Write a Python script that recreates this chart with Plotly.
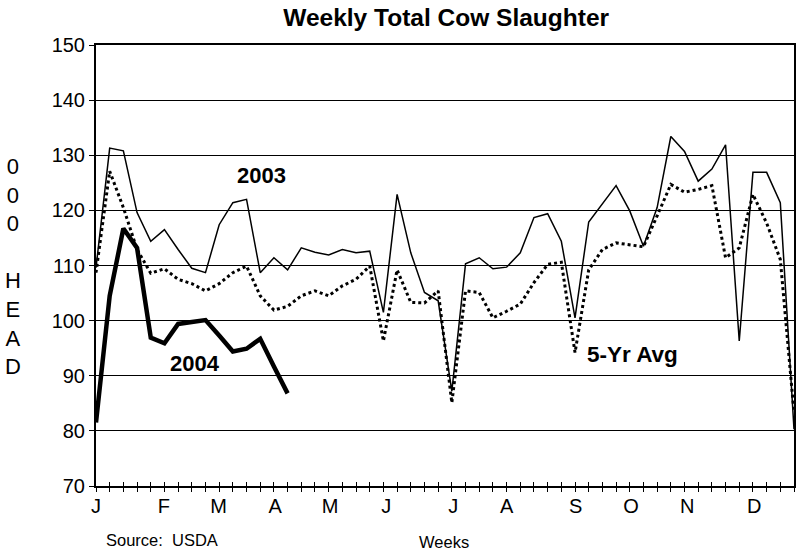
import plotly.graph_objects as go

weeks = list(range(1, 53))

y2003 = [109.6, 131.3, 130.8, 119.6, 114.4, 116.5, 112.9, 109.5, 108.7, 117.4,
         121.4, 122.0, 108.7, 111.4, 109.2, 113.2, 112.4, 111.9, 112.9, 112.3,
         112.6, 101.5, 122.9, 112.3, 105.1, 103.6, 87.2, 110.3, 111.4, 109.4,
         109.7, 112.3, 118.7, 119.4, 114.4, 100.5, 117.9, 121.1, 124.5, 119.9,
         113.5, 120.5, 133.4, 130.7, 125.3, 127.5, 131.9, 96.3, 126.9, 126.9,
         121.4, 80.3]

avg5 = [108.7, 127.1, 120.5, 112.9, 108.6, 109.4, 107.5, 106.7, 105.4, 106.7,
        108.7, 109.9, 104.5, 101.9, 102.6, 104.5, 105.4, 104.5, 106.3, 107.5,
        109.9, 96.3, 109.2, 103.3, 103.2, 105.4, 85.1, 105.4, 105.1, 100.5,
        101.7, 103.0, 106.9, 110.2, 110.6, 94.2, 109.2, 112.9, 114.1, 113.8,
        113.4, 119.0, 124.7, 123.3, 123.8, 124.5, 111.4, 113.2, 122.9, 117.7,
        111.1, 83.3]

y2004 = [81.5, 104.5, 116.7, 113.2, 96.9, 95.9, 99.4, 99.7, 100.1, 97.3,
         94.4, 94.9, 96.7, 91.7, 86.8]

month_labels = ["J", "F", "M", "A", "M", "J", "J", "A", "S", "O", "N", "D"]
month_pos = [1.0, 5.95, 9.95, 14.1, 18.1, 22.2, 27.1, 31.0, 36.05, 40.1, 44.2, 49.1]

FONT = "Liberation Sans Narrow, Arial Narrow, Liberation Sans, Arial, sans-serif"

fig = go.Figure()
fig.add_trace(go.Scatter(x=weeks, y=avg5, mode="lines", name="5-Yr Avg",
                         line=dict(color="black", width=3, dash="3px,3px")))
fig.add_trace(go.Scatter(x=weeks, y=y2003, mode="lines", name="2003",
                         line=dict(color="black", width=1.5)))
fig.add_trace(go.Scatter(x=weeks[:len(y2004)], y=y2004, mode="lines", name="2004",
                         line=dict(color="black", width=4.5)))
# invisible traces to activate overlay axes
fig.add_trace(go.Scatter(x=[1, 52], y=[70, 70], xaxis="x2", mode="lines",
                         line=dict(width=0), hoverinfo="skip", showlegend=False))
fig.add_trace(go.Scatter(x=[1, 52], y=[70, 70], xaxis="x3", mode="lines",
                         line=dict(width=0), hoverinfo="skip", showlegend=False))

fig.update_layout(
    width=801, height=556,
    margin=dict(l=96, r=5, t=45, b=70),
    paper_bgcolor="white", plot_bgcolor="white",
    showlegend=False,
    font=dict(family=FONT, size=20, color="black"),
    title=dict(text="<b>Weekly Total Cow Slaughter</b>", x=0.557, xanchor="center",
               y=1 - 17 / 556, yanchor="middle",
               font=dict(family=FONT, size=24.5, color="black")),
    xaxis=dict(range=[1, 52], tickvals=weeks, showticklabels=False,
               ticks="outside", ticklen=4, tickwidth=1, tickcolor="black",
               showline=True, linewidth=2, linecolor="black", mirror=True,
               showgrid=False, zeroline=False),
    xaxis2=dict(range=[1, 52], overlaying="x", anchor="y", side="bottom",
                tickvals=month_pos, ticktext=month_labels,
                ticks="outside", ticklen=2, tickcolor="rgba(0,0,0,0)",
                tickfont=dict(family=FONT, size=20, color="black"),
                showline=False, showgrid=False, zeroline=False),
    xaxis3=dict(range=[1, 52], overlaying="x", anchor="y", side="bottom",
                tickvals=weeks, showticklabels=False,
                ticks="inside", ticklen=4, tickwidth=1, tickcolor="black",
                showline=False, showgrid=False, zeroline=False),
    yaxis=dict(range=[70, 150], dtick=10, tick0=70,
               ticks="outside", ticklen=5, tickwidth=1, tickcolor="black",
               tickfont=dict(family=FONT, size=20, color="black"),
               showline=True, linewidth=2, linecolor="black", mirror=True,
               showgrid=True, gridcolor="black", gridwidth=1, zeroline=False),
)

ann_font = dict(family=FONT, size=22, color="black")
fig.add_annotation(x=13.1, y=126.3, text="<b>2003</b>", showarrow=False,
                   font=ann_font, xanchor="center", yanchor="middle")
fig.add_annotation(x=8.2, y=92.2, text="<b>2004</b>", showarrow=False,
                   font=ann_font, xanchor="center", yanchor="middle")
fig.add_annotation(x=40.2, y=93.8, text="<b>5-Yr Avg</b>", showarrow=False,
                   font=dict(family=FONT, size=22.5, color="black"),
                   xanchor="center", yanchor="middle")

fig.add_annotation(xref="paper", yref="paper", x=(13 - 96) / 700, y=(486 - 266) / 441,
                   text="0<br>0<br>0<br><br>H<br>E<br>A<br>D", showarrow=False,
                   font=dict(family=FONT, size=22, color="black"),
                   xanchor="center", yanchor="middle", align="center")
fig.add_annotation(xref="paper", yref="paper", x=(104 - 96) / 700, y=(486 - 540) / 441,
                   text="Source:  USDA", showarrow=False,
                   font=dict(family=FONT, size=16.5, color="black"),
                   xanchor="left", yanchor="middle")
fig.add_annotation(xref="paper", yref="paper", x=(445 - 96) / 700, y=(486 - 542) / 441,
                   text="Weeks", showarrow=False,
                   font=dict(family=FONT, size=16.5, color="black"),
                   xanchor="center", yanchor="middle")

fig.write_html("out.html",
               config={"displayModeBar": False},
               post_script="document.body.style.margin='0';document.body.style.padding='0';")
